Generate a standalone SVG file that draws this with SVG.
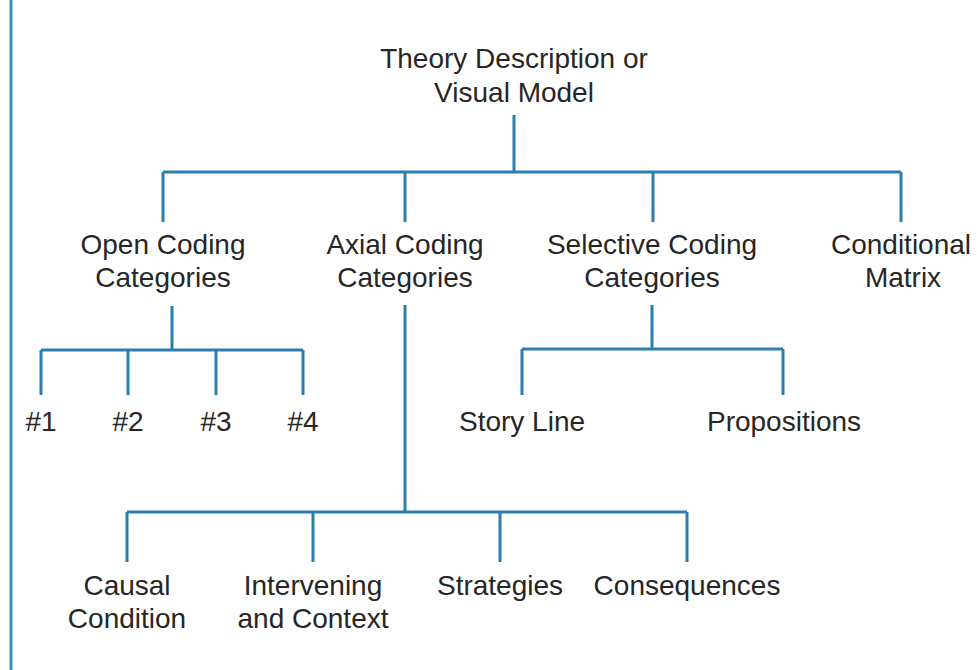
<svg xmlns="http://www.w3.org/2000/svg" width="977" height="670" viewBox="0 0 977 670">
<style>
.t{font-family:"Liberation Sans",Arial,sans-serif;font-size:28px;fill:#262626;text-anchor:middle}
.c{stroke:#2b7fae;stroke-width:3;fill:none}
</style>
<rect width="977" height="670" fill="#ffffff"/>
<line x1="11" y1="0" x2="11" y2="670" stroke="#3a8cc0" stroke-width="3"/>
<g id="connectors" class="c">
<path d="M514 115V172M163 172H901M163 172V222M405 172V222M653 172V222M901 172V222"/>
<path d="M172 306V350M41 350H303M41 350V395M128 350V395M216 350V395M303 350V395"/>
<path d="M405 305V512M127 512H687M127 512V562M313 512V562M500 512V562M687 512V562"/>
<path d="M652 305V349M522 349H783M522 349V395M783 349V395"/>
</g>
<g id="theory"><text class="t" x="514" y="68">Theory Description or</text><text class="t" x="514" y="102">Visual Model</text></g>
<g id="open"><text class="t" x="163" y="254">Open Coding</text><text class="t" x="163" y="287">Categories</text></g>
<g id="axial"><text class="t" x="405" y="254">Axial Coding</text><text class="t" x="405" y="287">Categories</text></g>
<g id="selective"><text class="t" x="652" y="254">Selective Coding</text><text class="t" x="652" y="287">Categories</text></g>
<g id="conditional"><text class="t" x="901" y="254">Conditional</text><text class="t" x="903" y="287">Matrix</text></g>
<g id="n1"><text class="t" x="41" y="431">#1</text></g>
<g id="n2"><text class="t" x="128" y="431">#2</text></g>
<g id="n3"><text class="t" x="216" y="431">#3</text></g>
<g id="n4"><text class="t" x="303" y="431">#4</text></g>
<g id="story"><text class="t" x="522" y="431">Story Line</text></g>
<g id="propositions"><text class="t" x="784" y="431">Propositions</text></g>
<g id="causal"><text class="t" x="127" y="595">Causal</text><text class="t" x="127" y="628">Condition</text></g>
<g id="intervening"><text class="t" x="313" y="595">Intervening</text><text class="t" x="313" y="628">and Context</text></g>
<g id="strategies"><text class="t" x="500" y="595">Strategies</text></g>
<g id="consequences"><text class="t" x="687" y="595">Consequences</text></g>
</svg>
